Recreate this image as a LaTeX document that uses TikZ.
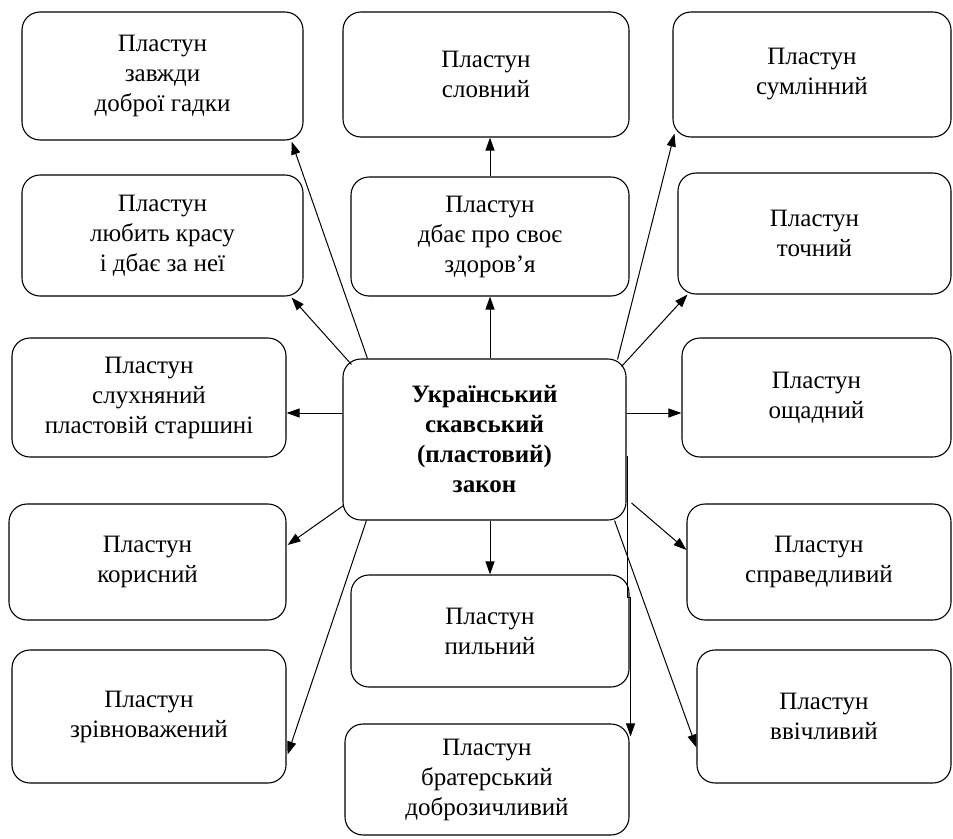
\documentclass[tikz,border=0pt]{standalone}
\usepackage{fontspec}
\setmainfont{Liberation Serif}
\usetikzlibrary{calc,arrows.meta}
\tikzset{
  box/.style={draw,line width=1.1pt,rounded corners=18pt,align=center,
    font=\fontsize{25}{30}\selectfont,inner sep=0pt},
  arr/.style={line width=1pt,-{Triangle[length=13pt,width=9pt]}}
}
\begin{document}
\begin{tikzpicture}[x=1pt,y=-1pt]
        \useasboundingbox (0,0) rectangle (953,838);
        % left column
        \node[box,minimum width=281pt,minimum height=128pt] (L1) at (162.5,76) {Пластун\\завжди\\доброї гадки};
        \node[box,minimum width=281pt,minimum height=121pt] (L2) at (162.5,235.5) {Пластун\\любить красу\\і дбає за неї};
        \node[box,minimum width=274pt,minimum height=119pt] (L3) at (149,397.5) {Пластун\\слухняний\\пластовій старшині};
        \node[box,minimum width=277pt,minimum height=116pt] (L4) at (147.5,562) {Пластун\\корисний};
        \node[box,minimum width=274pt,minimum height=133pt] (L5) at (149,716.5) {Пластун\\зрівноважений};
        % middle column
        \node[box,minimum width=286pt,minimum height=125pt] (C1) at (486,74.5) {Пластун\\словний};
        \node[box,minimum width=278pt,minimum height=119pt] (C2) at (490,236.5) {Пластун\\дбає про своє\\здоров’я};
        \node[box,minimum width=283pt,minimum height=161pt,font=\fontsize{25}{30}\selectfont\bfseries] (M) at (484.5,439.5) {Український\\скавський\\(пластовий)\\закон};
        \node[box,minimum width=278pt,minimum height=112pt] (C3) at (490,631) {Пластун\\пильний};
        \node[box,minimum width=284pt,minimum height=111pt] (C4) at (487,779.5) {Пластун\\братерський\\доброзичливий};
        % right column
        \node[box,minimum width=278pt,minimum height=125pt] (R1) at (812,74.5) {Пластун\\сумлінний};
        \node[box,minimum width=273pt,minimum height=121pt] (R2) at (814.5,233.5) {Пластун\\точний};
        \node[box,minimum width=269pt,minimum height=119pt] (R3) at (816.5,397.5) {Пластун\\ощадний};
        \node[box,minimum width=264pt,minimum height=116pt] (R4) at (819,562) {Пластун\\справедливий};
        \node[box,minimum width=254pt,minimum height=133pt] (R5) at (824,716.5) {Пластун\\ввічливий};

        \coordinate (mw) at ($(M.west)+(0,-26.5)$);
        \coordinate (me) at ($(M.east)+(0,-26.5)$);
        \draw[arr] ($(M.north west)+(25,0)$) -- ($(L1.south east)+(-12,1)$);
        \draw[arr] ($(M.north west)+(9,6)$) -- ($(L2.south east)+(-12,1)$);
        \draw[arr] (mw) -- (mw -| L3.east);
        \draw[arr] ($(M.south west)+(1,-15)$) -- ($(L4.east)+(1,-17)$);
        \draw[arr] ($(M.south west)+(24,0)$) -- ($(L5.east)+(1,38)$);
        \draw[arr] (M.north -| C2.south) -- (C2.south);
        \draw[arr] (C2.north) -- (C2.north |- C1.south);
        \draw[arr] (M.south -| C3.north) -- (C3.north);
        \draw[arr] ($(M.north east)+(-9,1)$) -- ($(R1.south west)+(2,-4)$);
        \draw[arr] ($(M.north east)+(-5,8)$) -- ($(R2.south west)+(10,0)$);
        \draw[arr] (me) -- (me -| R3.west);
        \draw[arr] ($(M.east)+(5,63.5)$) -- ($(R4.west)+(0,-12)$);
        \draw[arr] ($(M.south east)+(-12,0)$) -- ($(R5.west)+(0,31)$);
        \draw[arr] ($(M.east)+(1,16)$) -- ($(M.east)+(1,157.5)$) -- ++(3,0) -- ($(C4.north east)+(1,13)$);
    \end{tikzpicture}
\end{document}
